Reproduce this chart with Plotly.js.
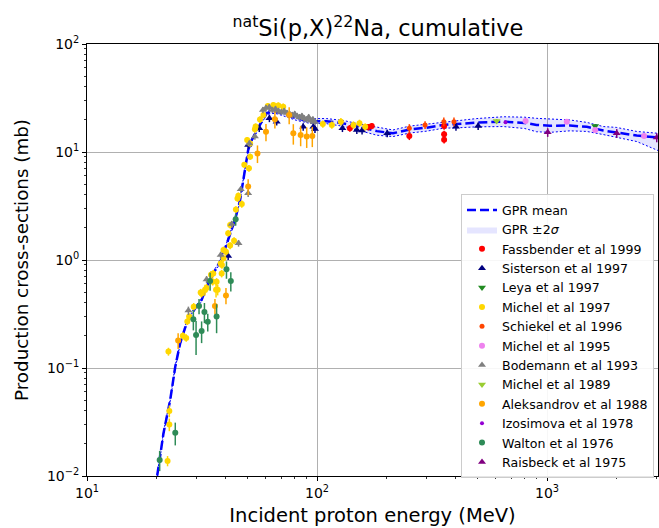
<!DOCTYPE html>
<html>
<head>
<meta charset="utf-8">
<script src="https://cdn.plot.ly/plotly-3.0.1.min.js"></script>
<style>html,body{margin:0;padding:0;background:#fff;}#chart{width:659px;height:528px;}</style>
</head>
<body>
<div id="chart"></div>
<script>
// ---- GPR curve ----
const gprE = [20.2,21.5,23.0,24.2,25.4,27.1,29.5,31.5,33.1,35.4,38.3,40.7,42.6,44.0,46.3,47.9,49.1,50.2,52.0,54.7,57.5,60.4,63.5,67,73.8,81.6,93.3,100,110,130,154,182,214,254,300,354,420,495,646,800,901,1030,1259,1489,1758,2000,2455,3045];
const gprMean = [0.0101,0.0248,0.0506,0.103,0.169,0.26,0.357,0.427,0.566,0.753,1.0,1.43,1.9,2.35,3.6,5.5,7.86,10.4,12.9,16.0,19.1,22.8,23.8,23.6,22.0,20.5,19.2,19.3,19.3,18.4,17.1,15.6,14.9,16.2,16.8,17.8,18.3,18.7,19.1,18.6,17.8,17.5,17.6,17.1,15.8,15.2,14.2,13.6];
const gprLow = [0.0098,0.0240,0.0490,0.0998,0.164,0.252,0.346,0.414,0.548,0.730,0.969,1.386,1.841,2.277,3.49,5.33,7.62,10.08,12.5,15.5,18.5,22.1,22.8,22.6,21.1,19.6,18.4,18.3,18.3,17.3,15.7,14.3,13.9,15.0,15.6,16.6,16.8,17.1,17.2,16.5,15.4,15.2,15.7,15.5,14.5,13.7,12.5,10.3];
const gprHigh = [0.0104,0.0256,0.0522,0.1063,0.174,0.268,0.368,0.441,0.584,0.777,1.032,1.476,1.961,2.425,3.72,5.68,8.11,10.73,13.3,16.5,19.7,23.5,24.8,24.6,23.0,21.4,20.0,20.4,20.4,19.6,18.1,17.0,16.0,17.4,18.1,19.1,19.9,20.4,21.2,21.0,20.5,20.1,19.8,18.8,17.2,16.9,15.5,14.9];

// ---- experimental data ----
const fassE = [139,167,173,252,357,357,357];
const fassY = [16.6,17.0,17.4,14.1,17.4,14.6,13.0];
const fassErr = [1.2,1.2,1.2,1.2,1.3,1.1,1.0];

const sistE = [41.1,50.2,56.1,62.1,66.8,87.1,96.4,98,129,149,157,202,402,502];
const sistY = [1.09,11.6,16.6,20.5,19.1,17.1,17.1,16.3,16.6,16.0,15.8,14.9,17.1,17.4];
const sistErr = [0.09,0.9,1.3,1.6,1.5,1.4,1.4,1.3,1.3,1.3,1.3,1.2,1.4,1.4];

const leyaE = [1620];
const leyaY = [17.4];
const leyaErr = [0.8];

const mi97E = [22.4,22.8,22.8,22.6,26.1,27.0,27.3,27.8,29.1,31.2,31.5,32.6,33.1,34.6,35.2,35.4,36.4,36.6,37.0,38.1,38.5,38.6,39.2,39.2,40.2,41.1,41.9,41.9,43.6,44.4,45.1,45.5,47.1,48.3,50.6,51.2,49.7,51.2,53.7,54.1,56.5,58.5,61.1,64.6,67.9,71.3,106,116,127,144,153,162];
const mi97Y = [0.0138,0.030,0.040,0.142,0.199,0.19,0.27,0.30,0.37,0.50,0.49,0.53,0.55,0.73,0.63,0.75,0.53,0.63,0.53,0.93,0.75,0.90,1.04,1.24,1.19,1.77,2.11,1.36,1.51,2.94,3.72,3.94,3.3,7.6,7.06,9.06,12.9,12.0,16.2,17.2,20.0,22,26.7,27.2,27,26.3,18.2,17.8,19.1,17.8,18.5,17.1];
const mi97Err = [0.0015,0.004,0.005,0.012,0.015,0.015,0.02,0.02,0.03,0.04,0.04,0.06,0.05,0.06,0.05,0.06,0.08,0.05,0.06,0.07,0.06,0.07,0.08,0.09,0.09,0.12,0.15,0.1,0.11,0.2,0.25,0.28,0.25,0.5,0.5,0.6,0.9,0.8,1.1,1.2,1.4,1.5,1.8,1.8,1.8,1.8,1.4,1.4,1.5,1.4,1.4,1.3];

const schE = [252,295,356,394];
const schY = [16.6,17.8,19.1,19.1];
const schErr = [1.5,1.5,1.8,1.8];

const mi95E = [807,1219,1620,2642];
const mi95Y = [19.4,19.1,16.0,14.1];
const mi95Err = [0.8,0.8,0.7,0.6];

const bodE = [27.6,33.1,38.1,42.6,45.6,46.6,50.2,50.8,53.7,58.2,60,62,64,66,68,70,72,74,76,78,80,82,84,86,88,90,92,94,96,98];
const bodY = [0.34,0.66,1.11,2.15,1.43,4.52,4.14,12.0,13.9,24.5,25.5,26.0,24.5,25.0,24.0,23.5,24.0,23.0,22.5,22.0,22.5,21.5,21.0,21.5,20.5,20.0,21.0,19.5,20.0,19.0];
const bodErr = [0.03,0.05,0.08,0.15,0.1,0.3,0.3,0.8,0.9,1.6,1.7,1.7,1.6,1.6,1.6,1.5,1.6,1.5,1.5,1.4,1.5,1.4,1.4,1.4,1.3,1.3,1.4,1.3,1.3,1.2];

const mi89E = [604];
const mi89Y = [19.4];
const mi89Err = [0.8];

const aleE = [24.9,36.0,40.2,50.2,55.1,60,65.6,75.7,78.9,84.9,90.2,95.4];
const aleY = [0.18,0.375,0.47,4.78,9.7,15.4,20.1,22,14.9,14.4,13.9,14.1];
const aleErr = [0.03,0.06,0.08,0.8,1.8,2.8,3.6,3.9,3.2,3.1,3.0,3.0];

const izoE = [660];
const izoY = [18.9];
const izoErr = [0.6];

const walE = [20.7,24.2,29.0,29.8,30.7,31.5,32.4,33.5,34.3,36.6,40.4,42.2,44.3];
const walY = [0.0141,0.0252,0.283,0.202,0.375,0.22,0.33,0.268,0.64,0.30,0.82,0.64,2.38];
const walErr = [0.003,0.006,0.06,0.07,0.06,0.05,0.07,0.05,0.12,0.09,0.15,0.13,0.3];

const raiE = [1007,2010,3000];
const raiY = [15.2,14.9,13.6];
const raiErr = [1.4,1.4,1.3];

const xTickVals = [10,100,1000];
const xTickText = ['10<sup>1</sup>','10<sup>2</sup>','10<sup>3</sup>'];
const yTickVals = [0.01,0.1,1,10,100];
const yTickText = ['10<sup>\u22122</sup>','10<sup>\u22121</sup>','10<sup>0</sup>','10<sup>1</sup>','10<sup>2</sup>'];

function ds(name, x, y, err, color, symbol, size) {
  return {
    type: 'scatter', mode: 'markers', name: name, x: x, y: y,
    marker: {color: color, symbol: symbol, size: size, line: {width: 0}},
    error_y: {type: 'data', array: err, visible: true, color: color, thickness: 1.5, width: 0},
    cliponaxis: true
  };
}

const bandX = gprE.concat(gprE.slice().reverse());
const bandY = gprHigh.concat(gprLow.slice().reverse());

const traces = [
  {type:'scatter', mode:'lines', x: bandX, y: bandY, fill:'toself', fillcolor:'rgba(0,0,255,0.1)',
   line:{width:0, color:'rgba(0,0,255,0)'}, name:'GPR \u00b12<i>\u03c3</i>', legendrank: 2, hoverinfo:'skip'},
  {type:'scatter', mode:'lines', x: gprE, y: gprHigh, line:{color:'blue', width:1, dash:'2px,2px'}, showlegend:false},
  {type:'scatter', mode:'lines', x: gprE, y: gprLow, line:{color:'blue', width:1, dash:'2px,2px'}, showlegend:false},
  {type:'scatter', mode:'lines', x: gprE, y: gprMean, line:{color:'blue', width:2.5, dash:'9px,4px'}, name:'GPR mean', legendrank: 1},
  Object.assign(ds('Fassbender et al 1999', fassE, fassY, fassErr, '#ff0000', 'circle', 6), {legendrank: 3}),
  Object.assign(ds('Sisterson et al 1997', sistE, sistY, sistErr, '#000080', 'triangle-up', 7), {legendrank: 4}),
  Object.assign(ds('Leya et al 1997', leyaE, leyaY, leyaErr, '#228b22', 'triangle-down', 7), {legendrank: 5}),
  Object.assign(ds('Michel et al 1997', mi97E, mi97Y, mi97Err, '#ffd700', 'circle', 6), {legendrank: 6}),
  Object.assign(ds('Schiekel et al 1996', schE, schY, schErr, '#ff4500', 'circle', 5), {legendrank: 7}),
  Object.assign(ds('Michel et al 1995', mi95E, mi95Y, mi95Err, '#ee82ee', 'circle', 6), {legendrank: 8}),
  Object.assign(ds('Bodemann et al 1993', bodE, bodY, bodErr, '#808080', 'triangle-up', 7), {legendrank: 9}),
  Object.assign(ds('Michel et al 1989', mi89E, mi89Y, mi89Err, '#9acd32', 'triangle-down', 7), {legendrank: 10}),
  Object.assign(ds('Aleksandrov et al 1988', aleE, aleY, aleErr, '#ffa500', 'circle', 6), {legendrank: 11}),
  Object.assign(ds('Izosimova et al 1978', izoE, izoY, izoErr, '#9400d3', 'circle', 4), {legendrank: 12}),
  Object.assign(ds('Walton et al 1976', walE, walY, walErr, '#2e8b57', 'circle', 6), {legendrank: 13}),
  Object.assign(ds('Raisbeck et al 1975', raiE, raiY, raiErr, '#800080', 'triangle-up', 7), {legendrank: 14})
];

const font = 'DejaVu Sans, Liberation Sans, sans-serif';
const layout = {
  width: 659, height: 528,
  margin: {l: 87, r: 1, t: 44, b: 52, pad: 0},
  paper_bgcolor: '#fff', plot_bgcolor: '#fff',
  font: {family: font, color: '#000', size: 14},
  title: {text: '<sup>nat</sup>Si(p,X)<sup>22</sup>Na, cumulative', font: {family: font, size: 22.5, color:'#000'},
          x: 0.5735, xanchor: 'center', y: 0.946, yanchor: 'middle'},
  showlegend: true,
  legend: {x: 0.655, y: 0.652, xanchor: 'left', yanchor: 'top', bgcolor: 'rgba(255,255,255,0.9)',
           bordercolor: '#cccccc', borderwidth: 1, font: {family: font, size: 12.6, color: '#000'},
           tracegroupgap: 0, itemwidth: 30},
  xaxis: {
    type: 'log', range: [1, 3.4826], autorange: false,
    showline: true, linecolor: '#000', linewidth: 1, mirror: true,
    ticks: 'outside', ticklen: 4, tickwidth: 1, tickcolor: '#000',
    tickvals: xTickVals, ticktext: xTickText, tickfont: {size: 14},
    showgrid: true, gridcolor: '#b0b0b0', gridwidth: 1, zeroline: false,
    minor: {ticks: 'outside', ticklen: 2, tickwidth: 0.8, tickcolor: '#000', dtick: 'D1', showgrid: false},
    title: {text: 'Incident proton energy (MeV)', font: {size: 19.5}, standoff: 8}
  },
  yaxis: {
    type: 'log', range: [-2, 2], autorange: false,
    showline: true, linecolor: '#000', linewidth: 1, mirror: true,
    ticks: 'outside', ticklen: 4, tickwidth: 1, tickcolor: '#000',
    tickvals: yTickVals, ticktext: yTickText, tickfont: {size: 14},
    showgrid: true, gridcolor: '#b0b0b0', gridwidth: 1, zeroline: false,
    minor: {ticks: 'outside', ticklen: 2, tickwidth: 0.8, tickcolor: '#000', dtick: 'D1', showgrid: false},
    title: {text: 'Production cross-sections (mb)', font: {size: 18.3}, standoff: 13}
  }
};

Plotly.newPlot('chart', traces, layout, {displayModeBar: false, staticPlot: true});
</script>
</body>
</html>
